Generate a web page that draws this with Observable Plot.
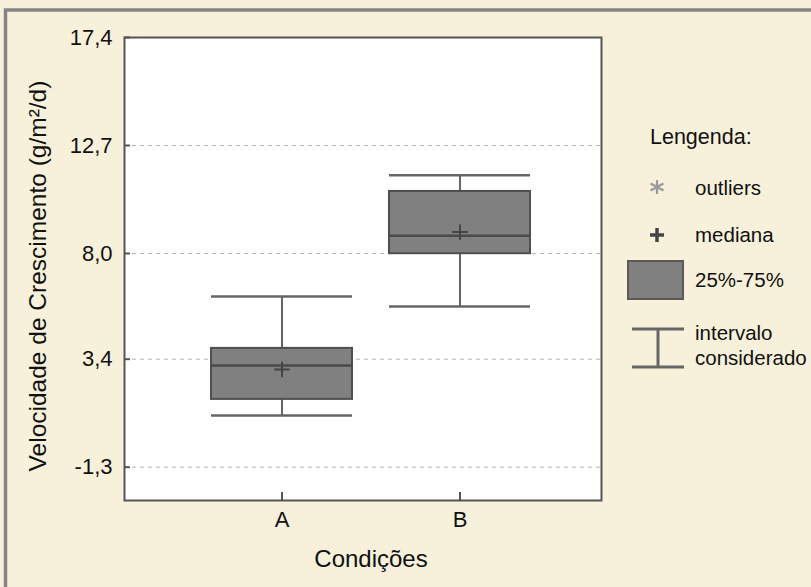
<!DOCTYPE html>
<html>
<head>
<meta charset="utf-8">
<script src="https://cdn.jsdelivr.net/npm/d3@7"></script>
<script src="https://cdn.jsdelivr.net/npm/@observablehq/plot@0.6"></script>
<style>
  html, body { margin: 0; padding: 0; background: #f7f0da; }
  #chart svg { display: block; }
</style>
</head>
<body>
<div id="chart"></div>
<script>
// ---- data ----
const categories   = ["A", "B"];
const whiskerLow   = [0.95, 5.69];
const quartile1    = [1.65, 7.99];
const boxLine      = [3.13, 8.77];
const quartile3    = [3.87, 10.70];
const whiskerHigh  = [6.13, 11.41];
const plusMarker   = [2.95, 8.93];
const yTicks       = [17.4, 12.7, 8.0, 3.4, -1.3];
const yDomain      = [-2.75, 17.4];
const yTitle       = "Velocidade de Crescimento (g/m²/d)";
const xTitle       = "Condições";
const legendTitle  = "Lengenda:";
const legendLabels = ["outliers", "mediana", "25%-75%", "intervalo", "considerado"];

const rows = categories.map((c, i) => ({
  cond: c, lo: whiskerLow[i], q1: quartile1[i], mid: boxLine[i],
  q3: quartile3[i], hi: whiskerHigh[i], plus: plusMarker[i]
}));

const fmt = d => d.toFixed(1).replace(".", ",");
const FONT = "'Liberation Sans', Arial, sans-serif";

const plot = Plot.plot({
  width: 811,
  height: 587,
  marginLeft: 124,
  marginRight: 210,
  marginTop: 37,
  marginBottom: 87,
  style: { background: "transparent", fontFamily: FONT, color: "#111" },
  x: { type: "band", domain: categories, range: [210.5, 529.5], paddingInner: 0.208, paddingOuter: 0, label: null },
  y: { domain: yDomain, label: null },
  marks: [
    Plot.frame({ fill: "white", stroke: "none" }),
    Plot.ruleY(yTicks.slice(1), { stroke: "#b5b5b5", strokeDasharray: "4,4", strokeWidth: 1 }),
    Plot.ruleX(rows, { x: "cond", y1: "lo", y2: "hi", stroke: "#666", strokeWidth: 2 }),
    Plot.tickY(rows, { x: "cond", y: "lo", stroke: "#666", strokeWidth: 2.5 }),
    Plot.tickY(rows, { x: "cond", y: "hi", stroke: "#666", strokeWidth: 2.5 }),
    Plot.barY(rows, { x: "cond", y1: "q1", y2: "q3", fill: "#808080", stroke: "#4f4f4f", strokeWidth: 2 }),
    Plot.tickY(rows, { x: "cond", y: "mid", stroke: "#4a4a4a", strokeWidth: 2.5 }),
    Plot.dot(rows, { x: "cond", y: "plus", symbol: "plus", r: 5, stroke: "#444", strokeWidth: 2 }),
    Plot.axisY({ ticks: yTicks, tickSize: 6, dx: 6, tickPadding: 12, tickFormat: fmt, fontSize: 22, stroke: "#555", strokeWidth: 2, label: null }),
    Plot.axisX({ tickSize: 8, dy: -8, tickPadding: 11, fontSize: 22, stroke: "#555", strokeWidth: 2, label: null }),
    Plot.frame({ stroke: "#555", strokeWidth: 2 })
  ]
});

document.getElementById("chart").appendChild(plot);

// ---- outer panel, titles and legend ----
const svg = d3.select(plot);
svg.insert("rect", ":first-child")
  .attr("x", 5.5).attr("y", 10).attr("width", 900).attr("height", 700)
  .attr("fill", "#f7f0da").attr("stroke", "#858585").attr("stroke-width", 3.5);

const g = svg.append("g").attr("font-family", FONT).attr("fill", "#111").attr("text-anchor", "start");

g.append("text")
  .attr("transform", "translate(46,276) rotate(-90)")
  .attr("text-anchor", "middle").attr("font-size", 24.5).text(yTitle);
g.append("text")
  .attr("x", 371).attr("y", 567)
  .attr("text-anchor", "middle").attr("font-size", 24).text(xTitle);

// legend
g.append("text").attr("x", 650).attr("y", 144).attr("font-size", 21.5).text(legendTitle);

// asterisk
const ast = g.append("g").attr("transform", "translate(657,187)").attr("stroke", "#9a9a9a").attr("stroke-width", 2.2);
ast.append("line").attr("x1", 0).attr("y1", -7).attr("x2", 0).attr("y2", 7);
ast.append("line").attr("x1", -6.5).attr("y1", -3.5).attr("x2", 6.5).attr("y2", 3.5);
ast.append("line").attr("x1", -6.5).attr("y1", 3.5).attr("x2", 6.5).attr("y2", -3.5);
g.append("text").attr("x", 695).attr("y", 195).attr("font-size", 20.5).text(legendLabels[0]);

// plus
const pl = g.append("g").attr("transform", "translate(657,235)").attr("stroke", "#444").attr("stroke-width", 3.5);
pl.append("line").attr("x1", 0).attr("y1", -7).attr("x2", 0).attr("y2", 7);
pl.append("line").attr("x1", -7).attr("y1", 0).attr("x2", 7).attr("y2", 0);
g.append("text").attr("x", 695).attr("y", 242).attr("font-size", 20.5).text(legendLabels[1]);

// box
g.append("rect").attr("x", 628).attr("y", 261).attr("width", 55).attr("height", 38)
  .attr("fill", "#808080").attr("stroke", "#5a5a5a").attr("stroke-width", 2);
g.append("text").attr("x", 695).attr("y", 287).attr("font-size", 20.5).text(legendLabels[2]);

// whisker icon
const wk = g.append("g").attr("stroke", "#666").attr("stroke-width", 3);
wk.append("line").attr("x1", 632).attr("y1", 329).attr("x2", 684).attr("y2", 329);
wk.append("line").attr("x1", 632).attr("y1", 367).attr("x2", 684).attr("y2", 367);
wk.append("line").attr("x1", 658).attr("y1", 329).attr("x2", 658).attr("y2", 367);
g.append("text").attr("x", 695).attr("y", 340).attr("font-size", 20.5).text(legendLabels[3]);
g.append("text").attr("x", 695).attr("y", 365).attr("font-size", 20.5).text(legendLabels[4]);
</script>
</body>
</html>
